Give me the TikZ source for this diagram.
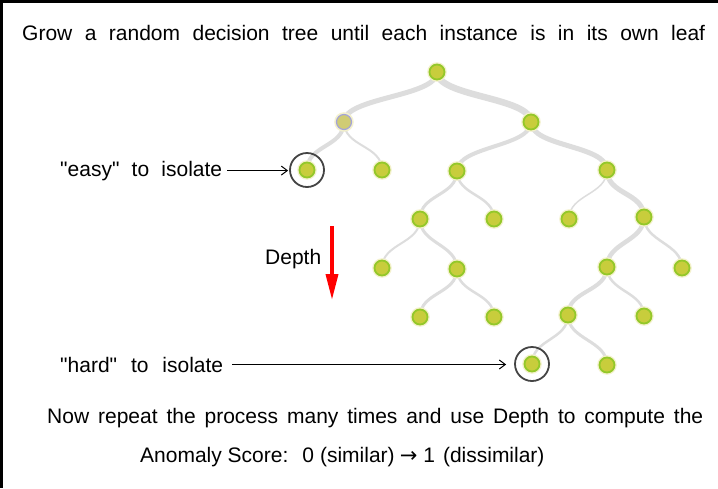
\documentclass[tikz,border=0pt]{standalone}
\usepackage{fontspec}
\setmainfont{Liberation Sans}[Ligatures=TeXOff]
\newfontfamily\arrowfont{DejaVu Sans}[Ligatures=TeXOff]
\usetikzlibrary{arrows.meta,backgrounds}
\definecolor{edgegrey}{HTML}{DDDDDD}
\definecolor{leaffill}{HTML}{C8CD3C}
\definecolor{leafring}{HTML}{94C82A}
\definecolor{leafhalo}{HTML}{F4F1CC}
\definecolor{oddfill}{HTML}{D0CC74}
\definecolor{oddring}{HTML}{A4A4D8}
\definecolor{ringgrey}{HTML}{444444}
\tikzset{
  leaf/.style={circle, fill=leaffill, draw=leafring, line width=1.8pt, minimum size=15pt, inner sep=0pt,
    preaction={draw=leafhalo, line width=4.5pt}},
  oddleaf/.style={leaf, fill=oddfill, draw=oddring, line width=1.2pt},
  hiring/.style={circle, draw=ringgrey, line width=1.8pt, minimum size=34pt, inner sep=0pt},
  edge/.style={draw=edgegrey, line cap=round},
  txt/.style={inner sep=0pt, anchor=base west, font=\fontsize{21}{24}\selectfont},
  pointer/.style={draw=black, line width=1pt, -{Straight Barb[length=6pt,width=9pt,line width=1pt]}},
  deptharrow/.style={draw=red, line width=3.6pt, -{Triangle[length=26pt,width=12pt]}}
}
\newcommand{\tedge}[3]{\draw[edge, line width=#3] (#1.center) .. controls +(0,25) and +(0,-25) .. (#2.center);}
\begin{document}
\begin{tikzpicture}[x=1pt,y=-1pt]
\useasboundingbox (0,0) rectangle (718,488);
% tree nodes
\node[leaf] (n0) at (437,72) {};
\node[oddleaf] (a1) at (344,122) {};
\node[leaf] (b1) at (531,122) {};
\node[leaf] (a2) at (307,170) {};
\node[leaf] (a3) at (382,170) {};
\node[leaf] (b2) at (457,171) {};
\node[leaf] (b3) at (607,170) {};
\node[leaf] (c1) at (420,219) {};
\node[leaf] (c2) at (494,219) {};
\node[leaf] (c3) at (569,219) {};
\node[leaf] (c4) at (644,217) {};
\node[leaf] (d1) at (382,268) {};
\node[leaf] (d2) at (457,269) {};
\node[leaf] (d3) at (607,267) {};
\node[leaf] (d4) at (682,268) {};
\node[leaf] (e1) at (420,317) {};
\node[leaf] (e2) at (494,317) {};
\node[leaf] (e3) at (568,315) {};
\node[leaf] (e4) at (644,316) {};
\node[leaf] (f1) at (532,364) {};
\node[leaf] (f2) at (607,365) {};
\node[hiring] (ring1) at (307,170) {};
\node[hiring] (ring2) at (532,364) {};
\begin{scope}[on background layer]
\fill[white] (0,0) rectangle (718,488);
\tedge{n0}{a1}{5pt}
\tedge{n0}{b1}{6.5pt}
\tedge{a1}{a2}{4pt}
\tedge{a1}{a3}{2pt}
\tedge{b1}{b2}{4pt}
\tedge{b1}{b3}{5pt}
\tedge{b2}{c1}{3pt}
\tedge{b2}{c2}{2.5pt}
\tedge{b3}{c3}{1.5pt}
\tedge{b3}{c4}{5pt}
\tedge{c1}{d1}{2pt}
\tedge{c1}{d2}{3pt}
\tedge{c4}{d3}{4.5pt}
\tedge{c4}{d4}{2.5pt}
\tedge{d2}{e1}{3pt}
\tedge{d2}{e2}{2.5pt}
\tedge{d3}{e3}{4pt}
\tedge{d3}{e4}{2.5pt}
\tedge{e3}{f1}{2.5pt}
\tedge{e3}{f2}{3pt}
\end{scope}
% frame (top and left edges only)
\draw[line width=2.5pt] (0,1.3) -- (718,1.3);
\draw[line width=2.5pt] (1.3,0) -- (1.3,488);
% texts
\node[txt] (title) at (22,40) {\makebox[683pt][s]{Grow a random decision tree until each instance is in its own leaf}};
\node[txt] (easy) at (60,176) {\makebox[162pt][s]{"easy" to isolate}};
\node[txt] (hard) at (60,372) {\makebox[163pt][s]{"hard" to isolate}};
\node[txt] (depth) at (265,264) {Depth};
\node[txt] (repeat) at (47,423) {\makebox[656pt][s]{Now repeat the process many times and use Depth to compute the}};
\node[txt] (score) at (140,462) {Anomaly Score:\hspace{14pt}0\hspace{6pt}(similar)\hspace{5pt}{\arrowfont →}\hspace{6pt}1\hspace{8pt}(dissimilar)};
% pointers
\draw[pointer, shorten <=5pt, shorten >=1pt] (easy.east) -- (easy.east -| ring1.west);
\draw[pointer, shorten <=9pt, shorten >=8pt] (hard.east) -- (hard.east -| ring2.west);
\coordinate (dtop) at (332,226);
\coordinate (dbot) at (332,300);
\draw[deptharrow] (dtop) -- (dbot);
\end{tikzpicture}
\end{document}
